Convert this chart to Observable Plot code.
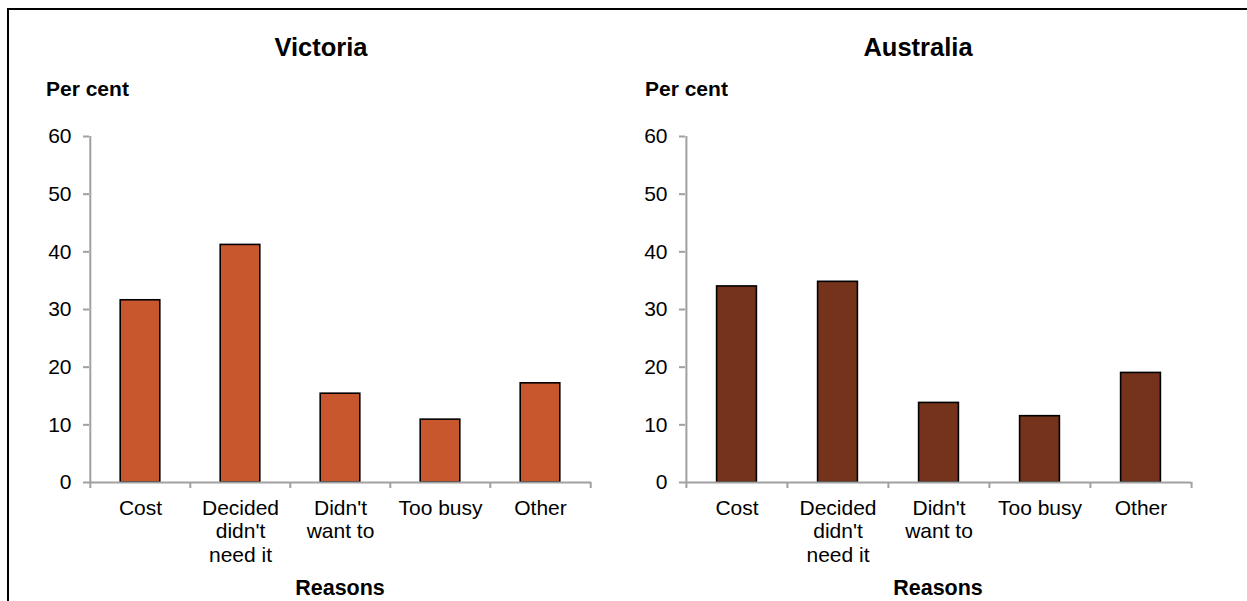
<!DOCTYPE html>
<html><head><meta charset="utf-8">
<script src="https://cdn.jsdelivr.net/npm/d3@7"></script>
<script src="https://cdn.jsdelivr.net/npm/@observablehq/plot@0.6"></script>
<style>
body{margin:0;background:#fff;font-family:"Liberation Sans",Arial,sans-serif;}
#wrap{position:relative;width:1247px;height:601px;overflow:hidden;background:#fff;}
#wrap svg{position:absolute;top:0;}
.frame{position:absolute;left:7px;top:8px;width:1300px;height:700px;border:2px solid #000;box-sizing:border-box;pointer-events:none;}
.t{position:absolute;color:#000;font-weight:bold;white-space:nowrap;line-height:1;font-family:"Liberation Sans",Arial,sans-serif;}
</style></head><body><div id="wrap"><div class="frame"></div></div>
<script>
const categories = ["Cost", "Decided didn't need it", "Didn't want to", "Too busy", "Other"];
const tickLabels = ["Cost", "Decided\ndidn't\nneed it", "Didn't\nwant to", "Too busy", "Other"];
const victoria = [31.6, 41.2, 15.4, 10.9, 17.2];
const australia = [34.0, 34.8, 13.8, 11.5, 19.0];
const yTicks = [0, 10, 20, 30, 40, 50, 60];
const panelTitles = ["Victoria", "Australia"];
const yLabel = "Per cent";
const xLabel = "Reasons";

const grey = "#a0a0a0";
const wrap = document.getElementById("wrap");

function panel(values, color, o) {
  const data = categories.map((c, i) => ({cat: c, value: values[i]}));
  const bw = (o.width - o.marginLeft - o.marginRight) / categories.length;
  const inset = (bw - 40) / 2;
  const yMax = yTicks[yTicks.length - 1];
  const svg = Plot.plot({
    width: o.width, height: 601,
    marginLeft: o.marginLeft, marginRight: o.marginRight, marginTop: 136, marginBottom: 119,
    style: {background: "transparent", overflow: "visible", fontFamily: "'Liberation Sans', Arial, sans-serif", color: "#000"},
    x: {domain: categories, padding: 0},
    y: {domain: [0, yMax]},
    marks: [
      Plot.barY(data, {x: "cat", y: "value", fill: color, stroke: "#000", strokeWidth: 1.6, insetLeft: inset, insetRight: inset}),
      Plot.ruleY([0], {stroke: grey, strokeWidth: 2}),
      Plot.ruleX([categories[0]], {dx: -bw / 2, y1: yMax, y2: 0, insetBottom: -6, stroke: grey, strokeWidth: 2}),
      Plot.ruleX(categories.slice(1), {dx: -bw / 2, y1: 0, y2: 0, insetBottom: -6, stroke: grey, strokeWidth: 2}),
      Plot.ruleX([categories[categories.length - 1]], {dx: bw / 2, y1: 0, y2: 0, insetBottom: -6, stroke: grey, strokeWidth: 2}),
      Plot.axisY({ticks: yTicks, tickSize: 6, tickPadding: 12, fontSize: 21, stroke: grey, strokeWidth: 2, fill: "#000", label: null}),
      Plot.axisX({tickSize: 0, tickPadding: 15, fontSize: 21, lineHeight: 1.14, fill: "#000", label: null,
        tickFormat: d => tickLabels[categories.indexOf(d)]})
    ]
  });
  svg.style.left = o.left + "px";
  wrap.insertBefore(svg, wrap.firstChild);
}

panel(victoria, "#C9572E", {left: 0, width: 610, marginLeft: 89, marginRight: 19});
panel(australia, "#74331A", {left: 610, width: 637, marginLeft: 75, marginRight: 56});

function label(text, x, y, size, anchor) {
  const d = document.createElement("div");
  d.className = "t";
  d.textContent = text;
  d.style.fontSize = size + "px";
  d.style.left = x + "px";
  d.style.top = y + "px";
  d.style.transform = anchor === "middle" ? "translate(-50%,-50%)" : "translate(0,-50%)";
  wrap.appendChild(d);
}
label(panelTitles[0], 321, 48, 25.5, "middle");
label(panelTitles[1], 918, 48, 25.5, "middle");
label(yLabel, 46, 88, 21, "start");
label(yLabel, 645, 88, 21, "start");
label(xLabel, 340, 589, 21.5, "middle");
label(xLabel, 938, 589, 21.5, "middle");
</script></body></html>
